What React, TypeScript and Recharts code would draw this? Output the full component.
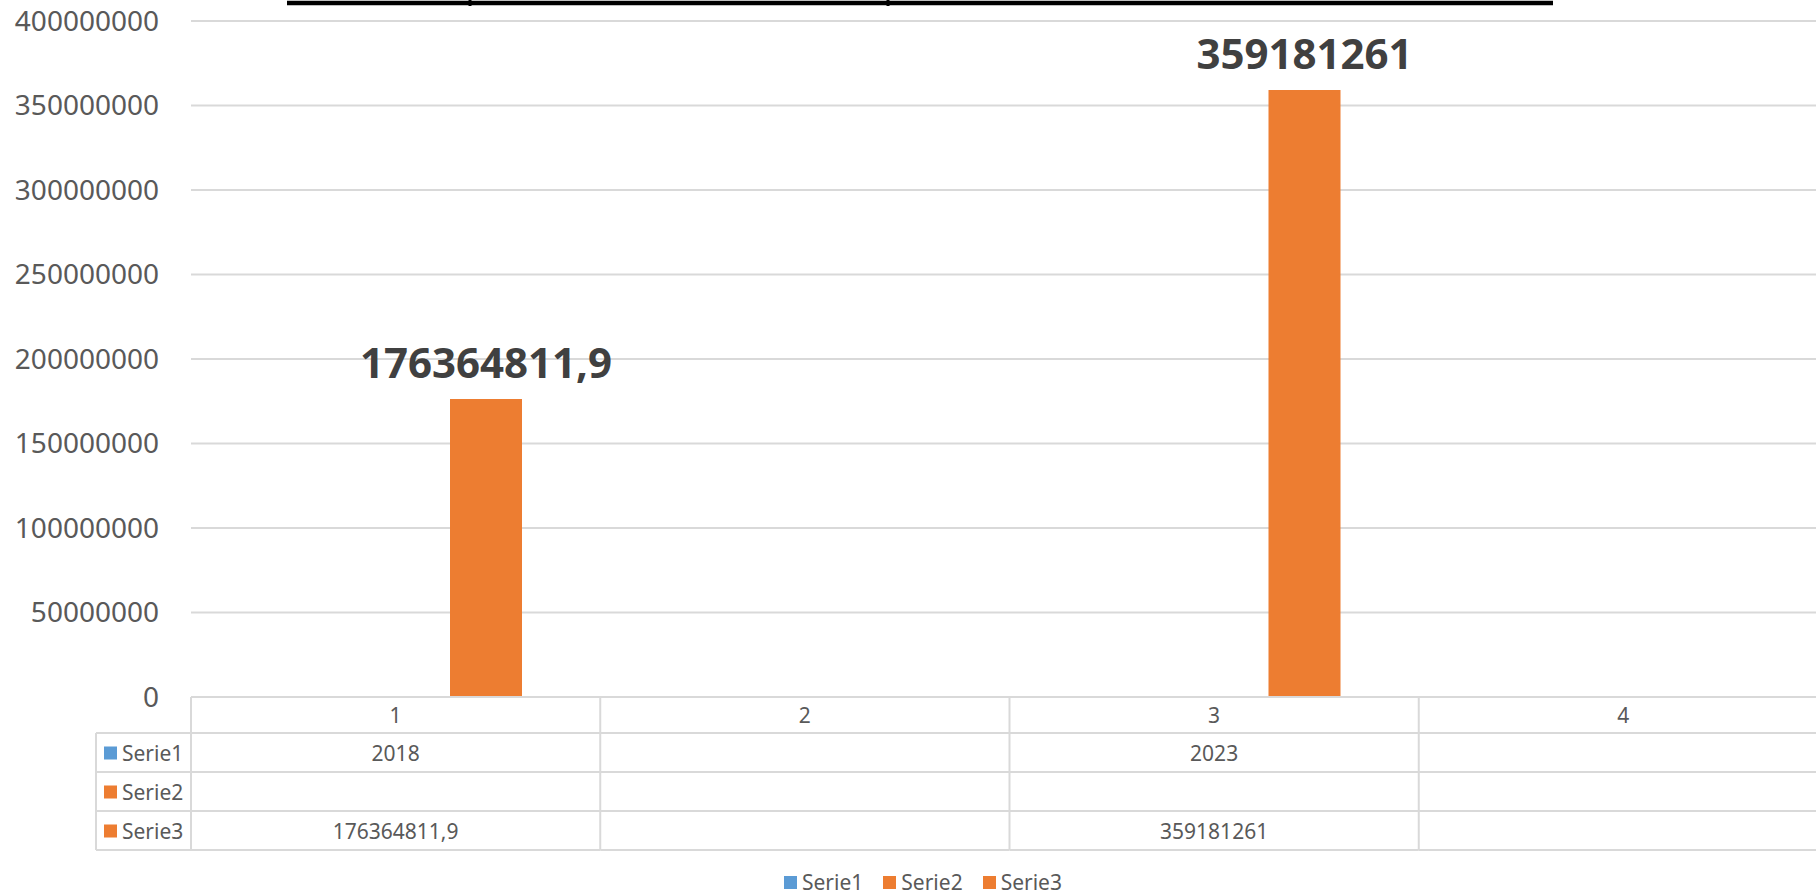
import { BarChart, Bar, XAxis, YAxis, CartesianGrid, Legend, LabelList } from "recharts";

const categories = ["1", "2", "3", "4"];
const serie1 = [2018, null, 2023, null];
const serie2 = [null, null, null, null];
const serie3 = [176364811.9, null, 359181261, null];
const yTicks = [0, 50000000, 100000000, 150000000, 200000000, 250000000, 300000000, 350000000, 400000000];

const seriesInfo = [
  { key: "serie1", name: "Serie1", color: "#5B9BD5", values: serie1 },
  { key: "serie2", name: "Serie2", color: "#ED7D31", values: serie2 },
  { key: "serie3", name: "Serie3", color: "#ED7D31", values: serie3 },
];

const data = categories.map((name, i) => ({
  name,
  serie1: serie1[i],
  serie2: serie2[i],
  serie3: serie3[i],
}));

const FONT = "'Noto Sans', sans-serif";
const TEXT = "#595959";
const LINE = "#d9d9d9";

const CHART_W = 1828;
const CHART_H = 896;
const YAXIS_W = 191;
const COL_W = (CHART_W - YAXIS_W) / categories.length;
const TABLE_LEFT = 96;
const ROW_H = [36, 39, 39, 39];
const LEGEND_H = 46;

const fmt = (v: number | null) => (v == null ? "" : String(v).replace(".", ","));

// data table under the plot, drawn column by column from the x axis ticks
function TableTick(props: any) {
  const { x, y, index } = props;
  const left = x - COL_W / 2;
  const right = x + COL_W / 2;
  const rows = [y];
  ROW_H.forEach((h) => rows.push(rows[rows.length - 1] + h));
  const mid = (r: number) => (rows[r] + rows[r + 1]) / 2;

  return (
    <g>
      {rows.map((ry, i) => (
        <line key={"h" + i} x1={left} x2={right} y1={ry} y2={ry} stroke={LINE} strokeWidth={2} />
      ))}
      <line x1={left} x2={left} y1={rows[0]} y2={rows[4]} stroke={LINE} strokeWidth={2} />
      {index === categories.length - 1 && (
        <line x1={right} x2={right} y1={rows[0]} y2={rows[4]} stroke={LINE} strokeWidth={2} />
      )}
      <text x={x} y={mid(0)} textAnchor="middle" dominantBaseline="central" fill={TEXT} fontSize={21} fontFamily={FONT}>
        {categories[index]}
      </text>
      {seriesInfo.map((s, r) => (
        <text key={s.key} x={x} y={mid(r + 1)} textAnchor="middle" dominantBaseline="central" fill={TEXT} fontSize={21} fontFamily={FONT}>
          {fmt(s.values[index])}
        </text>
      ))}
      {index === 0 && (
        <g>
          {rows.slice(1).map((ry, i) => (
            <line key={"l" + i} x1={TABLE_LEFT} x2={left} y1={ry} y2={ry} stroke={LINE} strokeWidth={2} />
          ))}
          <line x1={TABLE_LEFT} x2={TABLE_LEFT} y1={rows[1]} y2={rows[4]} stroke={LINE} strokeWidth={2} />
          {seriesInfo.map((s, r) => (
            <g key={s.key}>
              <rect x={TABLE_LEFT + 8} y={mid(r + 1) - 6} width={13} height={13} fill={s.color} />
              <text x={TABLE_LEFT + 26} y={mid(r + 1)} dominantBaseline="central" fill={TEXT} fontSize={21} fontFamily={FONT}>
                {s.name}
              </text>
            </g>
          ))}
        </g>
      )}
    </g>
  );
}

function LegendContent() {
  return (
    <div style={{ paddingTop: 20, paddingBottom: 2, paddingLeft: 18, display: "flex", justifyContent: "center", gap: 20, fontFamily: FONT, fontSize: 21, color: TEXT, lineHeight: "24px" }}>
      {seriesInfo.map((s) => (
        <div key={s.key} style={{ display: "flex", alignItems: "center", height: 24 }}>
          <span style={{ display: "inline-block", width: 13, height: 13, background: s.color, marginRight: 5 }} />
          <span>{s.name}</span>
        </div>
      ))}
    </div>
  );
}

export default function App() {
  return (
    <div style={{ position: "absolute", left: 0, top: 0, width: 1816, height: 896, overflow: "hidden", background: "#fff" }}>
      <svg width={1816} height={12} style={{ position: "absolute", left: 0, top: 0 }}>
        <line x1={287} x2={1553} y1={3} y2={3} stroke="#000" strokeWidth={4.5} />
        <line x1={470} x2={470} y1={0} y2={6} stroke="#000" strokeWidth={3} />
        <line x1={888} x2={888} y1={0} y2={6} stroke="#000" strokeWidth={3} />
      </svg>
      <BarChart
        width={CHART_W}
        height={CHART_H}
        data={data}
        margin={{ top: 21, right: 0, left: 0, bottom: 0 }}
        barSize={72}
        barGap={18}
      >
        <CartesianGrid vertical={false} stroke={LINE} strokeWidth={2} />
        <XAxis
          dataKey="name"
          height={CHART_H - 697 - LEGEND_H}
          interval={0}
          tickLine={false}
          tickSize={0}
          tickMargin={0}
          axisLine={{ stroke: LINE, strokeWidth: 2 }}
          tick={<TableTick />}
        />
        <YAxis
          width={YAXIS_W}
          domain={[0, 400000000]}
          ticks={yTicks}
          axisLine={false}
          tickLine={false}
          tickSize={0}
          tickMargin={32}
          tick={{ fill: TEXT, fontSize: 28, fontFamily: FONT }}
        />
        <Legend verticalAlign="bottom" content={<LegendContent />} />
        {seriesInfo.map((s) => (
          <Bar key={s.key} dataKey={s.key} name={s.name} fill={s.color} isAnimationActive={false}>
            {s.key === "serie3" && (
              <LabelList
                dataKey={s.key}
                position="top"
                offset={21}
                formatter={(v: any) => fmt(v)}
                fill="#404040"
                fontSize={42}
                fontWeight="bold"
                fontFamily={FONT}
              />
            )}
          </Bar>
        ))}
      </BarChart>
    </div>
  );
}
